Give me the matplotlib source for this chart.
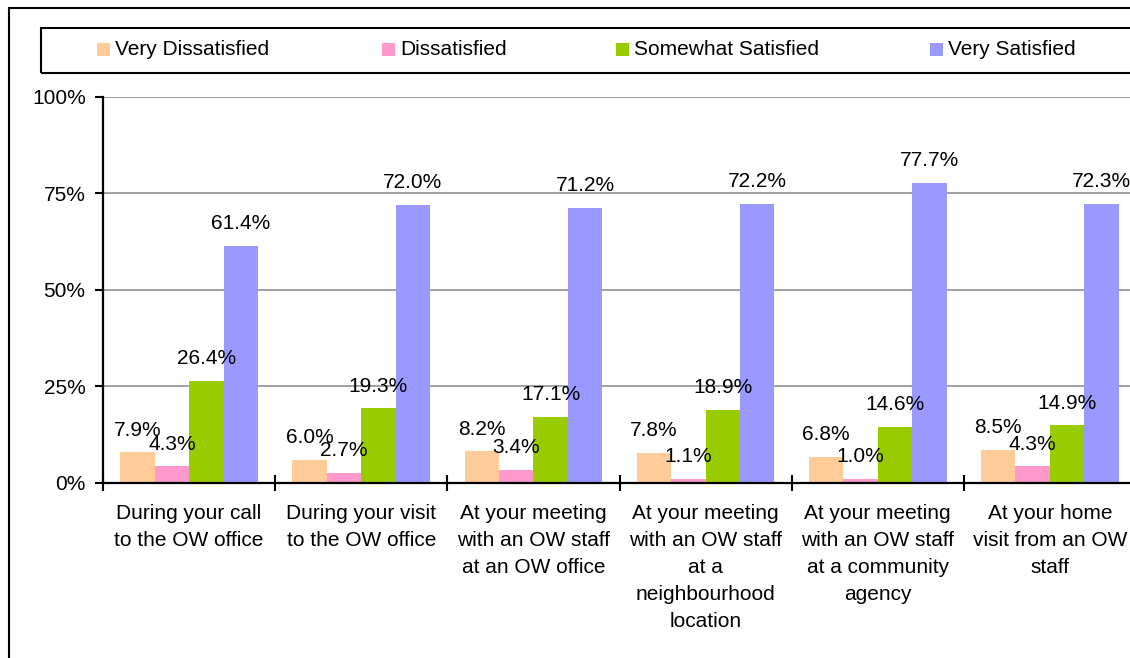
import matplotlib
matplotlib.use("Agg")
import matplotlib.pyplot as plt
from matplotlib.patches import Rectangle
import numpy as np

plt.rcParams['font.family'] = ['Liberation Sans', 'DejaVu Sans']

categories = [
    "During your call\nto the OW office",
    "During your visit\nto the OW office",
    "At your meeting\nwith an OW staff\nat an OW office",
    "At your meeting\nwith an OW staff\nat a\nneighbourhood\nlocation",
    "At your meeting\nwith an OW staff\nat a community\nagency",
    "At your home\nvisit from an OW\nstaff",
]
series_names = ["Very Dissatisfied", "Dissatisfied", "Somewhat Satisfied", "Very Satisfied"]
very_dissatisfied = [7.9, 6.0, 8.2, 7.8, 6.8, 8.5]
dissatisfied = [4.3, 2.7, 3.4, 1.1, 1.0, 4.3]
somewhat_satisfied = [26.4, 19.3, 17.1, 18.9, 14.6, 14.9]
very_satisfied = [61.4, 72.0, 71.2, 72.2, 77.7, 72.3]
yticks = [0, 25, 50, 75, 100]
ytick_labels = ["0%", "25%", "50%", "75%", "100%"]

colors = ["#FFCC99", "#FF99CC", "#99CC00", "#9999FF"]
series = [very_dissatisfied, dissatisfied, somewhat_satisfied, very_satisfied]

FS = 15

W, H = 1130, 658
fig = plt.figure(figsize=(W / 100, H / 100), dpi=100)
fig.patch.set_facecolor("white")

def fx(x):
    return x / W

def fy(y):
    return 1 - y / H

# outer frame
fig.patches.append(Rectangle((fx(9), fy(700)), fx(1200) - fx(9), fy(8) - fy(700),
                             transform=fig.transFigure, fill=False, edgecolor="black",
                             linewidth=1.5, zorder=0))
# legend frame
fig.patches.append(Rectangle((fx(41), fy(73)), fx(1200) - fx(41), fy(28) - fy(73),
                             transform=fig.transFigure, fill=False, edgecolor="black",
                             linewidth=1.5, zorder=0))

marker_x = [97, 382, 616, 930]
for mx, name, c in zip(marker_x, series_names, colors):
    fig.patches.append(Rectangle((fx(mx), fy(55.5)), fx(13), 13 / H,
                                 transform=fig.transFigure, facecolor=c, edgecolor="none"))
    fig.text(fx(mx + 18), fy(49.5), name, fontsize=FS, va="center", ha="left", color="black")

left, right, top, bottom = 103, 1136, 96.5, 483
ax = fig.add_axes([fx(left), fy(bottom), fx(right) - fx(left), fy(top) - fy(bottom)])
ax.set_facecolor("none")

n = len(categories)
centers = np.arange(n) + 0.5
bw = 0.2
offsets = [-0.3, -0.1, 0.1, 0.3]
for vals, c, off in zip(series, colors, offsets):
    xs = centers + off
    ax.bar(xs, vals, width=bw, color=c, edgecolor="none", zorder=2)
    for x, v in zip(xs, vals):
        ax.annotate(f"{v:.1f}%", (x, v), xytext=(0, 12), textcoords="offset points",
                    ha="center", va="baseline", fontsize=FS, color="black", zorder=3,
                    annotation_clip=False)

ax.set_xlim(0, n)
ax.set_ylim(0, 100)
ax.set_yticks(yticks)
ax.set_yticklabels(ytick_labels, fontsize=FS)
ax.yaxis.grid(True, color="#999999", linewidth=1.3, zorder=1)
ax.set_axisbelow(True)

ax.set_xticks(np.arange(n + 1))
ax.set_xticklabels([])
ax.set_xticks(centers, minor=True)
ax.set_xticklabels(categories, minor=True, fontsize=FS, linespacing=1.53)
ax.tick_params(axis="x", which="major", direction="inout", length=11, width=1.5)
ax.tick_params(axis="x", which="minor", length=0, pad=15)
ax.tick_params(axis="y", which="major", direction="out", length=5.5, width=1.5, pad=7)

for s in ["top", "right"]:
    ax.spines[s].set_visible(False)
for s in ["left", "bottom"]:
    ax.spines[s].set_linewidth(1.6)
    ax.spines[s].set_color("black")
ax.spines["bottom"].set_zorder(4)

fig.savefig("out.png", dpi=100)
